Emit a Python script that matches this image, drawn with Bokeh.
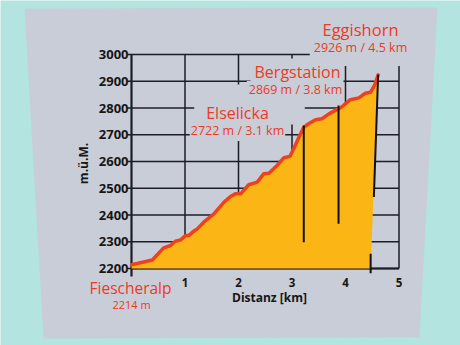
import math
from bokeh.plotting import figure
from bokeh.models import Label
from bokeh.core.properties import value
from bokeh.embed import file_html
from bokeh.resources import INLINE

# ---------------- data ----------------
profile_km = [0.00, 0.39, 0.60, 0.73, 0.82, 0.92, 1.01, 1.07, 1.16, 1.23, 1.35, 1.54,
              1.73, 1.85, 1.94, 2.04, 2.19, 2.35, 2.47, 2.57, 2.72, 2.85, 2.96, 3.03,
              3.13, 3.22, 3.31, 3.44, 3.56, 3.69, 3.81, 3.91, 4.09, 4.25, 4.37, 4.47,
              4.54, 4.61]
profile_m = [2214, 2232, 2277, 2286, 2302, 2307, 2323, 2323, 2339, 2348, 2373, 2404,
             2448, 2469, 2479, 2479, 2513, 2523, 2554, 2556, 2585, 2614, 2619, 2647,
             2691, 2728, 2741, 2756, 2760, 2778, 2791, 2801, 2831, 2838, 2855, 2859,
             2884, 2924]
fill_end_km = 4.47
base_m = 2200

y_ticks = [2200, 2300, 2400, 2500, 2600, 2700, 2800, 2900, 3000]
y_tick_labels = ["2200", "2300", "2400", "2500", "2600", "2700", "2800", "2900", "3000"]
x_ticks = [1, 2, 3, 4, 5]
x_tick_labels = ["1", "2", "3", "4", "5"]

station_names = ["Fiescheralp", "Elselicka", "Bergstation", "Eggishorn"]
station_info = ["2214 m", "2722 m / 3.1 km", "2869 m / 3.8 km", "2926 m / 4.5 km"]

marker_x0 = [3.22, 3.87, 4.61, 4.47]
marker_y0 = [2735, 2809, 2924, 2255]
marker_x1 = [3.22, 3.87, 4.53, 4.47]
marker_y1 = [2298, 2367, 2467, 2182]

# ---------------- styling ----------------
TEAL = "#b3e4e0"
CARD = "#c9cdd7"
ORANGE = "#fbb616"
RED_LINE = "#f0401c"
RED_TEXT = "#ec3a26"
GRID = "#1d1d28"
FONT = "Open Sans"

W, H = 460, 345
X0PX, PXKM, Y0PX, PXM = 131.0, 53.5, 268.0, 0.2675


def dx(px):
    return (px - X0PX) / PXKM


def dy(py):
    return base_m + (Y0PX - py) / PXM


p = figure(width=W, height=H, x_range=(dx(0), dx(W)), y_range=(dy(H), dy(0)),
           output_backend="svg", toolbar_location=None, min_border=0,
           x_axis_location=None, y_axis_location=None, title=None,
           background_fill_color=TEAL, border_fill_color=TEAL,
           outline_line_color=None)
p.grid.visible = False

# card
p.patch(x=[dx(24), dx(437), dx(419), dx(43)], y=[dy(8), dy(7), dy(337), dy(338)],
        fill_color=CARD, line_color=None)

# grid
p.segment(x0=[-0.08] * len(y_ticks), y0=y_ticks, x1=[x_ticks[-1]] * len(y_ticks),
          y1=y_ticks, line_color=GRID, line_width=1.5)
p.segment(x0=x_ticks, y0=[base_m] * len(x_ticks), x1=x_ticks,
          y1=[y_ticks[-1]] * len(x_ticks), line_color=GRID, line_width=1.5)
# axis lines
p.segment(x0=[0, 0], y0=[dy(277), base_m], x1=[0, x_ticks[-1]], y1=[y_ticks[-1], base_m],
          line_color=GRID, line_width=2.2)

# area + profile
p.patch(x=profile_km + [fill_end_km, 0], y=profile_m + [base_m, base_m],
        fill_color=ORANGE, line_color=None)
p.line(profile_km, profile_m, line_color=RED_LINE, line_width=3.5,
       line_join="round", line_cap="round")
p.segment(x0=marker_x0, y0=marker_y0, x1=marker_x1, y1=marker_y1,
          line_color="#111111", line_width=2)

# tick labels
p.text(x=[0] * len(y_ticks), y=y_ticks, text=y_tick_labels, x_offset=-3,
       text_align="right", text_baseline="middle", text_font=value(FONT),
       text_font_style="bold", text_font_size="13px", text_color="#161616")
p.text(x=x_ticks, y=[base_m] * len(x_ticks), text=x_tick_labels, y_offset=14,
       text_align="center", text_baseline="middle", text_font=value(FONT),
       text_font_style="bold", text_font_size="11.5px", text_color="#161616")

p.add_layout(Label(x=dx(269), y=dy(297), text="Distanz [km]", text_align="center",
                   text_baseline="middle", text_font=FONT, text_font_style="bold",
                   text_font_size="12px", text_color="#161616"))
p.add_layout(Label(x=dx(83), y=dy(163), text="m.ü.M.", angle=math.pi / 2,
                   text_align="center", text_baseline="middle", text_font=FONT,
                   text_font_style="bold", text_font_size="12px",
                   text_color="#161616"))

# station labels (background masks the grid like on the sign)
title_pos = [(130, 287, 15.5), (237, 112, 16), (297, 71, 16), (360, 29, 16.5)]
info_pos = [(131, 304, 11), (237, 130, 12.5), (295, 89, 12.5), (360, 47, 12.5)]
title_pad = [(0, 0, 0, 0), (12, 36, 17, 1), (4, 3, 2, 0), (2, 2, 2, 0)]   # l, r, t, b
info_pad = [(0, 0, 0, 0), (1, 1, 0, 2), (2, 0, 0, 2), (4, 8, 0, 10)]


def station_label(px, py, size, pad, text):
    l, r, t, b = pad
    cx = px + (r - l) / 2.0
    cy = py + (b - t) / 2.0
    return Label(x=dx(cx), y=dy(cy), text=text, text_align="center",
                 text_baseline="middle", text_font=FONT,
                 text_font_size=f"{size}px", text_color=RED_TEXT,
                 background_fill_color=CARD,
                 padding=dict(left=l, right=r, top=t, bottom=b))


for i in range(len(station_names)):
    ix, iy, isz = info_pos[i]
    tx, ty, ts = title_pos[i]
    p.add_layout(station_label(ix, iy, isz, info_pad[i], station_info[i]))
    p.add_layout(station_label(tx, ty, ts, title_pad[i], station_names[i]))

open("out.html", "w").write(file_html(p, INLINE))
